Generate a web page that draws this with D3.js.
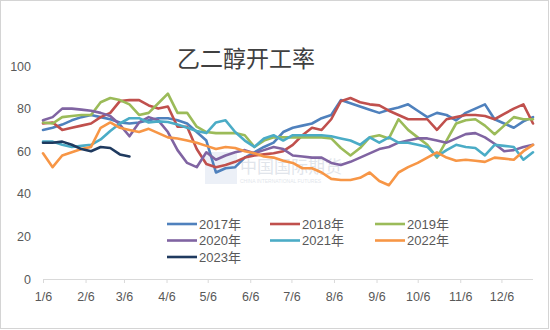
<!DOCTYPE html>
<html>
<head>
<meta charset="utf-8">
<script src="https://cdn.jsdelivr.net/npm/d3@7"></script>
<style>
  html, body { margin: 0; padding: 0; background: #fff; }
  svg { display: block; }
</style>
</head>
<body>
<svg id="chart" width="550" height="330"></svg>
<script>
// Weekly ethylene glycol operating rate (%), one series per year
const seriesNames = ["2017年", "2018年", "2019年", "2020年", "2021年", "2022年", "2023年"];

const rate2017 = [70,71,72.5,74.5,76,77,76,75,73.5,73,
  73.5,74.5,75.5,75.5,74.5,73,69,65,50,52,
  52.5,57,59.5,62,64,69,71,72,73,75.5,
  77,84,82.5,81,79.5,78,79.5,80.5,82,79,
  76,78,77,74.5,78,80,82,75,73,71,
  74,76];
const rate2018 = [73,73.5,70,71,72,73,76,78,83.5,84,
  84,81.5,80,81,71.5,71.5,61,54,52.5,53.5,
  55,57,58,58.5,59,60,63,67.5,71,70,
  75,83.5,85,83,82,81.5,79,77,75,75,
  75,70,75,76,77,77,76.5,75,77.5,80,
  82,73];
const rate2019 = [73.5,73,76,76.5,77,77,83,85,84,82,
  77,78,82.5,87,78,78,71.5,69,68.5,68.5,
  68.5,67.5,62,65,66.5,66.5,66.5,66.5,66.5,66.5,
  66,61.5,58,61.5,66.5,67.5,66,75,70,66.5,
  63,57,65,73,74.5,75,72,68,72,76,
  75,75];
const rate2020 = [74.5,76,80,80,79.5,79,78,76.5,72.5,67,
  73.5,76,74.5,69,60.5,54.5,52.5,59.5,56,58,
  59.5,60.5,59,60.5,62,61,58,57.5,57,57,
  54.5,53.5,55,57,59,61,62,64,65,66,
  66,65,64,66,68,68.5,66.5,63.5,60,60.5,
  62,63];
const rate2021 = [64.5,64.5,63,62,62.5,63,65.5,69.5,73,75.5,
  75.5,73.5,74,73.7,72.5,71,69.5,68.5,73.5,74.5,
  69,65,62,66,67.5,65,67.5,67.5,67.5,67.5,
  67,66,65,63,66.5,64,66.5,64,64,63,
  62,57.5,60.5,63,62,61.5,58,63,62.5,62,
  56,59.5];
const rate2022 = [59,52.5,58,59.5,61,62,71,73.5,71,70,
  69,70.5,68.5,66.5,66,65,64,62.5,61,62,
  61.5,60,59,57.5,57,55.5,54.5,52,52,50,
  47,46.5,46.5,47.5,50,46,44,50,52.5,54.5,
  57,59.5,57,55.5,56,55.5,55,57,56.5,56,
  60,63];
const rate2023 = [64,64,64.5,63,61,60,62,61.5,58.5,57.5];

const seriesValues = [rate2017, rate2018, rate2019, rate2020, rate2021, rate2022, rate2023];
const seriesColors = ["#4f81bd", "#c0504d", "#9bbb59", "#8064a2", "#4bacc6", "#f79646", "#1f3a5f"];

// Axis labels
const yTicks = [0, 20, 40, 60, 80, 100];
const monthTickLabels = ["1/6","2/6","3/6","4/6","5/6","6/6","7/6","8/6","9/6","10/6","11/6","12/6"];

// Week dates: one point every 7 days from 6 January
const firstWeek = new Date(2017, 0, 6);
const weekDates = d3.range(52).map(i => d3.timeDay.offset(firstWeek, i * 7));
const monthTickDates = monthTickLabels.map((_, m) => new Date(2017, m, 6));

const svg = d3.select("#chart");
const W = 550, H = 330;

// Outer frame
svg.append("rect")
  .attr("x", 0.5).attr("y", 0.5)
  .attr("width", W - 2).attr("height", H - 2)
  .attr("fill", "#fff")
  .attr("stroke", "#d4d4d4")
  .attr("stroke-width", 1);

const x = d3.scaleTime()
  .domain([firstWeek, weekDates[weekDates.length - 1]])
  .range([43, 533]);
const y = d3.scaleLinear().domain([0, 100]).range([279, 66]);

// Title
svg.append("text")
  .attr("x", 246).attr("y", 67)
  .attr("text-anchor", "middle")
  .attr("font-family", "'Noto Sans CJK SC', sans-serif")
  .attr("font-size", 23)
  .attr("fill", "#404040")
  .text("乙二醇开工率");

// Y axis labels (no axis line)
const yAxis = d3.axisLeft(y).tickValues(yTicks).tickSize(0).tickPadding(0);
const gy = svg.append("g").attr("transform", "translate(31,0)").call(yAxis);
gy.select(".domain").remove();
gy.selectAll("text")
  .attr("font-family", "'Liberation Sans', Arial, sans-serif")
  .attr("font-size", 12.5)
  .attr("fill", "#595959");

// X axis
const xAxis = d3.axisBottom(x)
  .tickValues(monthTickDates)
  .tickFormat((d, i) => monthTickLabels[i])
  .tickSize(4)
  .tickSizeOuter(0)
  .tickPadding(9);
const gx = svg.append("g").attr("transform", `translate(0,${y(0)})`).call(xAxis);
gx.select(".domain").attr("stroke", "#d9d9d9").attr("d", "M43,0.5H533");
gx.selectAll(".tick line").attr("stroke", "#d9d9d9");
gx.selectAll("text")
  .attr("font-family", "'Liberation Sans', Arial, sans-serif")
  .attr("font-size", 12.5)
  .attr("fill", "#595959");

// Faint source watermark
const wm = svg.append("g").attr("opacity", 0.35);
wm.append("rect")
  .attr("x", 205).attr("y", 152).attr("width", 32).attr("height", 32)
  .attr("fill", "#c9d6ea");
wm.append("text")
  .attr("x", 240).attr("y", 173)
  .attr("font-family", "'Noto Sans CJK SC', sans-serif")
  .attr("font-size", 17)
  .attr("fill", "#aab6c8")
  .text("中国国际期货");
wm.append("text")
  .attr("x", 240).attr("y", 183)
  .attr("font-family", "'Liberation Sans', Arial, sans-serif")
  .attr("font-size", 5)
  .attr("fill", "#aab6c8")
  .text("CHINA INTERNATIONAL FUTURES");

// Series lines
const line = d3.line()
  .x((d, i) => x(weekDates[i]))
  .y(d => y(d));

seriesValues.forEach((vals, s) => {
  svg.append("path")
    .datum(vals)
    .attr("fill", "none")
    .attr("stroke", seriesColors[s])
    .attr("stroke-width", 2.6)
    .attr("stroke-linejoin", "round")
    .attr("stroke-linecap", "round")
    .attr("d", line);
});

// Legend: three columns
const legendCols = [167, 270, 375];
const legendRows = [224, 240.5, 257];
const legend = svg.append("g");
seriesNames.forEach((name, i) => {
  const cx = legendCols[i % 3], cy = legendRows[Math.floor(i / 3)];
  legend.append("line")
    .attr("x1", cx).attr("x2", cx + 30)
    .attr("y1", cy).attr("y2", cy)
    .attr("stroke", seriesColors[i])
    .attr("stroke-width", 2.6);
  legend.append("text")
    .attr("x", cx + 32).attr("y", cy + 4.5)
    .attr("font-family", "'Liberation Sans', 'Noto Sans CJK SC', sans-serif")
    .attr("font-size", 13)
    .attr("fill", "#595959")
    .text(name);
});
</script>
</body>
</html>
